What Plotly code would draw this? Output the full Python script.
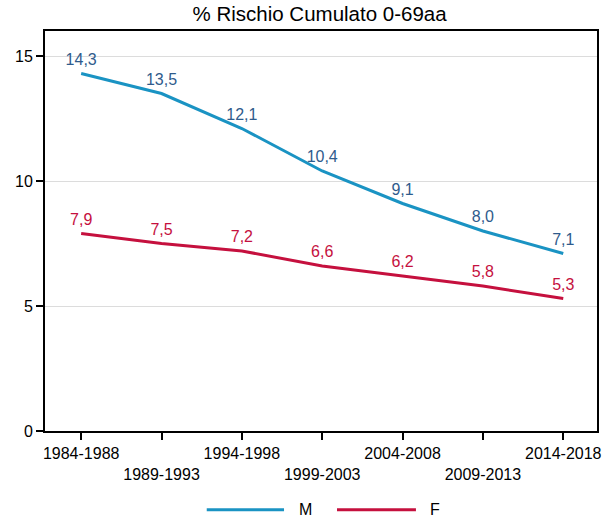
import plotly.graph_objects as go

periods = ["1984-1988", "1989-1993", "1994-1998", "1999-2003", "2004-2008", "2009-2013", "2014-2018"]
m_values = [14.3, 13.5, 12.1, 10.4, 9.1, 8.0, 7.1]
f_values = [7.9, 7.5, 7.2, 6.6, 6.2, 5.8, 5.3]
y_ticks = [0, 5, 10, 15]
series_names = ["M", "F"]

x_idx = list(range(len(periods)))
tick_text = [p if i % 2 == 0 else "<br>" + p for i, p in enumerate(periods)]

def fmt(v):
    return f"{v:.1f}".replace(".", ",")

M_LINE = "#1a93c3"
M_TEXT = "#2f5b8c"
F_LINE = "#c5103e"
F_TEXT = "#c5103e"
FONT = "Liberation Sans, Arial"

fig = go.Figure()
for name, vals, lc, tc in [(series_names[0], m_values, M_LINE, M_TEXT),
                           (series_names[1], f_values, F_LINE, F_TEXT)]:
    fig.add_trace(go.Scatter(
        x=x_idx, y=vals, mode="lines+markers+text", name=name,
        line=dict(color=lc, width=3),
        marker=dict(size=6, opacity=0),
        text=[fmt(v) for v in vals], textposition="top center",
        textfont=dict(color=tc, size=16, family=FONT),
        cliponaxis=False, showlegend=False, hoverinfo="x+y",
    ))

# custom legend (long line samples like the reference)
LEG_Y = -0.197
legend_items = [(series_names[0], M_LINE, 0.293, 0.433, 0.456),
                (series_names[1], F_LINE, 0.529, 0.672, 0.693)]
for name, col, x0, x1, xt in legend_items:
    fig.add_shape(type="line", xref="paper", yref="paper", x0=x0, x1=x1,
                  y0=LEG_Y, y1=LEG_Y, line=dict(color=col, width=3))
    fig.add_annotation(xref="paper", yref="paper", x=xt, y=LEG_Y, text=name,
                       showarrow=False, xanchor="left", yanchor="middle",
                       font=dict(size=16, color="black", family=FONT))

fig.update_layout(
    width=603, height=519,
    margin=dict(l=45, r=6, t=31, b=88),
    paper_bgcolor="white", plot_bgcolor="white",
    font=dict(family=FONT, size=14, color="black"),
    title=dict(text="% Rischio Cumulato 0-69aa", x=0.53, xanchor="center",
               y=0.974, yanchor="middle", font=dict(size=20.5, color="black")),
    showlegend=False,
    xaxis=dict(
        tickmode="array", tickvals=x_idx, ticktext=tick_text,
        range=[-0.45, 6.42], showgrid=False, zeroline=False, automargin=False,
        ticks="outside", ticklen=7, tickwidth=1.5, tickcolor="black",
        showline=True, linecolor="black", linewidth=2, mirror=True,
        tickfont=dict(size=16),
    ),
    yaxis=dict(
        tickmode="array", tickvals=y_ticks, range=[0, 16], automargin=False,
        showgrid=True, gridcolor="#dcdcdc", gridwidth=1, zeroline=False,
        ticks="outside", ticklen=7, tickwidth=1.5, tickcolor="black",
        showline=True, linecolor="black", linewidth=2, mirror=True,
        tickfont=dict(size=16),
    ),
)

fig.write_html(
    "out.html",
    config={"displayModeBar": False},
    post_script="document.body.style.margin='0';document.body.style.overflow='hidden';",
)
